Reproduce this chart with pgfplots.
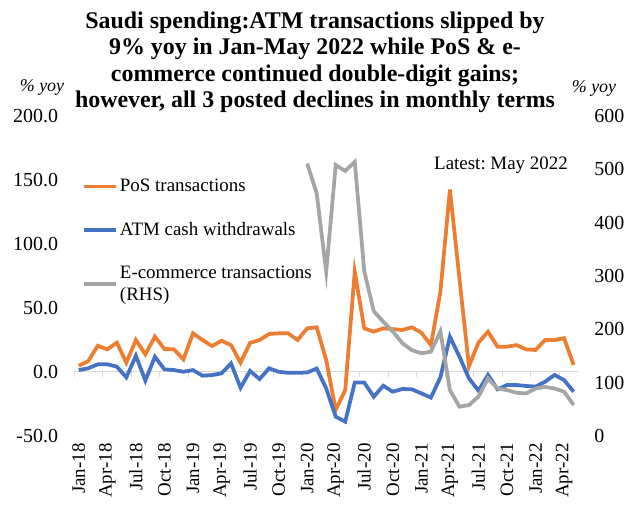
\documentclass[border=0pt]{standalone}
\usepackage{fontspec}
\setmainfont{Liberation Serif}
\usepackage{pgfplots}
\usepackage{pgfplotstable}
\pgfplotsset{compat=1.18}
\definecolor{posorange}{HTML}{ED7D31}
\definecolor{atmblue}{HTML}{4472C4}
\definecolor{ecomgray}{HTML}{A5A5A5}
\definecolor{axisgray}{HTML}{D9D9D9}
\frenchspacing

% m = month index (0 = Jan-18), pos/atm on LHS, ecom on RHS
\pgfplotstableread{
m pos atm ecom
0 4.9 1.5 nan
1 8.5 2.9 nan
2 20.5 6.0 nan
3 17.7 6.0 nan
4 22.9 4.2 nan
5 7.3 -4.2 nan
6 25.0 12.7 nan
7 13.8 -6.7 nan
8 27.6 11.9 nan
9 18.0 2.1 nan
10 17.7 1.5 nan
11 9.9 0.2 nan
12 30.2 1.5 nan
13 25.0 -2.9 nan
14 20.3 -2.4 nan
15 24.4 -1.1 nan
16 21.0 6.7 nan
17 7.3 -12.3 nan
18 22.7 0.8 nan
19 25.0 -5.5 nan
20 29.7 2.9 nan
21 30.2 0.2 nan
22 30.2 -0.6 nan
23 25.0 -0.6 nan
24 34.1 -0.4 511
25 34.9 2.7 455
26 9.3 -12.8 308
27 -29.6 -34.9 508
28 -14.1 -38.8 497
29 78.4 -8.3 514
30 34.1 -8.3 309
31 31.5 -19.3 234
32 34.1 -10.7 214
33 33.5 -15.4 196
34 32.8 -13.3 174
35 34.9 -13.5 161
36 30.7 -16.7 155
37 21.0 -20.0 158
38 62.7 -4.2 196
39 142.5 27.6 86
40 73.0 12.0 55
41 4.5 -5.0 58
42 23.0 -14.6 74
43 31.5 -2.3 108
44 19.8 -13.5 89
45 19.8 -10.2 86
46 21.0 -10.2 81
47 17.7 -10.9 80
48 17.2 -11.4 89
49 25.0 -7.6 92
50 25.0 -2.3 89
51 26.4 -6.3 83
52 5.5 -15.4 58
}\saudidata

\pgfplotsset{
  saudibase/.style={
    at={(74bp,70bp)}, anchor=south west,
    scale only axis, width=504.4bp, height=320bp,
    xmin=-0.5, xmax=52.5,
    axis line style={draw=none},
    major tick length=0pt,
    tick label style={font=\fontsize{20}{23}\selectfont},
    /pgf/number format/assume math mode=true,
  },
}

\begin{document}
\begin{tikzpicture}
\useasboundingbox (0,0) rectangle (629bp,506bp);

\begin{axis}[saudibase,
  ymin=-50, ymax=200,
  ytick={-50,0,...,200},
  yticklabel style={/pgf/number format/.cd, fixed, fixed zerofill, precision=1, /tikz/.cd, xshift=-12.5bp},
  xtick={0,3,...,51},
  xticklabels={Jan-18,Apr-18,Jul-18,Oct-18,Jan-19,Apr-19,Jul-19,Oct-19,Jan-20,Apr-20,Jul-20,Oct-20,Jan-21,Apr-21,Jul-21,Oct-21,Jan-22,Apr-22},
  xticklabel style={rotate=90, anchor=east, xshift=-4bp, font=\fontsize{19}{22}\selectfont},
  legend style={at={(0.01,0.815)}, anchor=north west, draw=none, fill=none,
    font=\fontsize{19}{22}\selectfont, row sep=25bp, cells={align=left}},
  legend cell align=left,
  legend image code/.code={\draw[#1] (0bp,0bp) -- (32bp,0bp);},
]
\draw[axisgray, line width=1bp] (axis cs:-0.5,0) -- (axis cs:52.5,0);
\pgfplotsinvokeforeach{0,...,17}{
  \draw[axisgray, line width=1bp] (axis cs:{-0.5+3*#1},0) -- ++(0bp,-5bp);
}
\addplot[posorange, line width=3.75bp] table[x=m, y=pos] {\saudidata};
\addlegendentry{PoS transactions}
\addplot[atmblue, line width=3.75bp] table[x=m, y=atm] {\saudidata};
\addlegendentry{ATM cash withdrawals}
\addlegendimage{ecomgray, line width=3.75bp}
\addlegendentry{E-commerce transactions\\(RHS)}
\end{axis}

\begin{axis}[saudibase,
  ymin=0, ymax=600,
  axis x line=none,
  axis y line*=right,
  ytick={0,100,...,600},
  yticklabel style={anchor=west, xshift=12.5bp},
]
\addplot[ecomgray, line width=3.75bp] table[x=m, y=ecom] {\saudidata};
\end{axis}

\node[align=center, anchor=north, inner sep=0pt, font=\bfseries\fontsize{24}{26.3}\selectfont]
  at (315bp,494bp) {Saudi spending:ATM transactions slipped by\\
  9\% yoy in Jan-May 2022 while PoS \& e-\\
  commerce continued double-digit gains;\\
  however, all 3 posted declines in monthly terms};
\node[font=\itshape\fontsize{18}{20}\selectfont] at (42bp,419bp) {\% yoy};
\node[font=\itshape\fontsize{18}{20}\selectfont] at (594bp,418bp) {\% yoy};
\node[font=\fontsize{19}{22}\selectfont] at (501bp,341bp) {Latest: May 2022};
\end{tikzpicture}
\end{document}
